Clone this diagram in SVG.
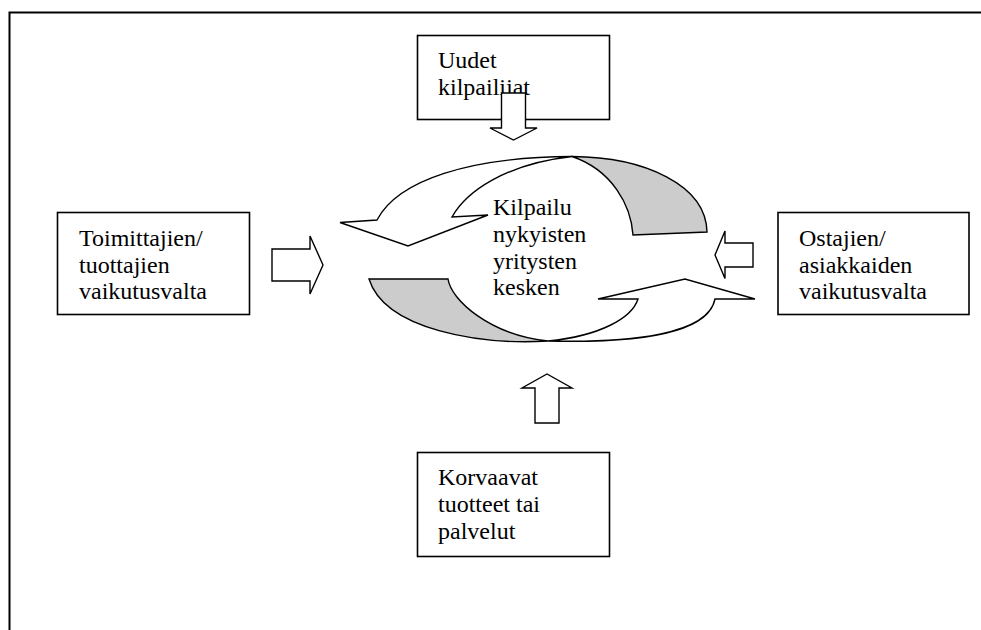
<svg xmlns="http://www.w3.org/2000/svg" width="981" height="630" viewBox="0 0 981 630">
  <style>
    .box { fill: #ffffff; stroke: #000000; stroke-width: 1.6; }
    .lbl { font-family: "Liberation Serif", "Times New Roman", serif; font-size: 24px; fill: #000000; }
    .arrow { fill: #ffffff; stroke: #000000; stroke-width: 1.4; stroke-linejoin: miter; }
    .front { fill: #ffffff; stroke: #000000; stroke-width: 1.4; stroke-linejoin: miter; }
    .back { fill: #cccccc; stroke: #000000; stroke-width: 1.4; stroke-linejoin: miter; }
  </style>

  <rect width="981" height="630" fill="#ffffff"/>

  <!-- page frame, open towards the right and bottom -->
  <path d="M 9.5 631 V 12.5 H 982" fill="none" stroke="#000000" stroke-width="2"/>

  <!-- central rivalry cycle -->
  <g id="rivalry">
    <!-- upper ribbon: back side -->
    <path class="back" d="M 572 156.5 C 645 157 706 185 707 232 L 633 235 C 631 205 612 170 572 156.5 Z"/>
    <!-- upper ribbon: front side with head pointing down-left -->
    <path class="front" d="M 377 220 C 398 180 470 157 572 156.5 C 505 164 466 192 452 217 L 488 215 L 408 246 L 340 222.5 Z"/>
    <!-- lower ribbon: back side -->
    <path class="back" d="M 369 279 L 448 279 C 451 300 490 335 548 341 C 480 345 385 330 369 279 Z"/>
    <!-- lower ribbon: front side with head pointing up-right -->
    <path class="front" d="M 548 341 C 630 343 708 335 715 299 L 755 299 L 685 279 L 598 299 L 638 299 C 632 318 600 336 548 341 Z"/>
    <text class="lbl">
      <tspan x="493" y="215">Kilpailu</tspan>
      <tspan x="493" y="242">nykyisten</tspan>
      <tspan x="493" y="268.5">yritysten</tspan>
      <tspan x="493" y="295">kesken</tspan>
    </text>
  </g>

  <g id="new-entrants">
    <rect class="box" x="417.5" y="35.5" width="192" height="84"/>
    <text class="lbl">
      <tspan x="438" y="67.5">Uudet</tspan>
      <tspan x="438" y="95">kilpailijat</tspan>
    </text>
  </g>

  <g id="suppliers">
    <rect class="box" x="57.5" y="212.5" width="192" height="102"/>
    <text class="lbl">
      <tspan x="79" y="246">Toimittajien/</tspan>
      <tspan x="79" y="272.5">tuottajien</tspan>
      <tspan x="79" y="299">vaikutusvalta</tspan>
    </text>
  </g>

  <g id="buyers">
    <rect class="box" x="778" y="212.5" width="191" height="102"/>
    <text class="lbl">
      <tspan x="799" y="246">Ostajien/</tspan>
      <tspan x="799" y="272.5">asiakkaiden</tspan>
      <tspan x="799" y="299">vaikutusvalta</tspan>
    </text>
  </g>

  <g id="substitutes">
    <rect class="box" x="417.5" y="452.5" width="192" height="104"/>
    <text class="lbl">
      <tspan x="438" y="485">Korvaavat</tspan>
      <tspan x="438" y="512">tuotteet tai</tspan>
      <tspan x="438" y="539">palvelut</tspan>
    </text>
  </g>

  <!-- block arrows pointing at the centre -->
  <g id="connectors">
    <path class="arrow" d="M 501.5 93 H 525.5 V 128 H 537 L 513.5 140 L 490 128 H 501.5 Z"/>
    <path class="arrow" d="M 272 249 H 310 V 236 L 323 265 L 310 294 V 281 H 272 Z"/>
    <path class="arrow" d="M 753 243 H 725 V 231 L 715 255 L 725 278.5 V 267 H 753 Z"/>
    <path class="arrow" d="M 535 423 V 388 H 522 L 547 374 L 572 388 H 559 V 423 Z"/>
  </g>
</svg>
